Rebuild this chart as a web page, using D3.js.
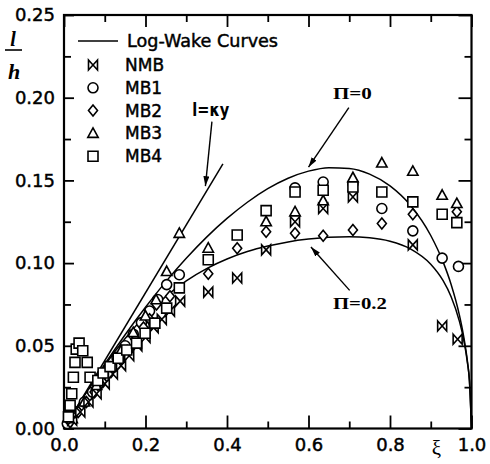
<!DOCTYPE html>
<html>
<head>
<meta charset="utf-8">
<script src="https://cdn.jsdelivr.net/npm/d3@7"></script>
<style>
body { margin: 0; background: #fff; }
svg { display: block; }
.axis text { font-family: "DejaVu Sans"; font-size: 18px; fill: #000; stroke: #000; stroke-width: 0.45; }
.axis line { stroke: #000; stroke-width: 1.8; }
.axis path { display: none; }
.legend text { font-family: "DejaVu Sans"; font-size: 17px; fill: #000; stroke: #000; stroke-width: 0.45; }
.note { font-family: "Liberation Serif"; font-weight: bold; font-size: 17px; fill: #000; }
</style>
</head>
<body>
<svg id="chart"></svg>
<script>
const WIDTH = 490;
const HEIGHT = 464;

// axis ticks
const X_MAJOR = [0, 0.2, 0.4, 0.6, 0.8, 1.0];
const X_MINOR = [0.1, 0.3, 0.5, 0.7, 0.9];
const Y_MAJOR = [0, 0.05, 0.10, 0.15, 0.20, 0.25];
const Y_MINOR = [0.025, 0.075, 0.125, 0.175, 0.225];

// measured points [xi, l/h]
const NMB = [
    [0.02, 0.005], [0.04, 0.010], [0.06, 0.016], [0.08, 0.021], [0.10, 0.027],
    [0.12, 0.033], [0.14, 0.038], [0.16, 0.044], [0.18, 0.050], [0.20, 0.055],
    [0.22, 0.061], [0.24, 0.066], [0.26, 0.071], [0.285, 0.077],
    [0.354, 0.0825], [0.425, 0.091], [0.496, 0.108], [0.567, 0.125], [0.636, 0.133],
    [0.709, 0.140], [0.856, 0.111], [0.928, 0.062], [0.966, 0.054]
];
const MB1 = [
    [0.008, 0.003], [0.03, 0.010], [0.05, 0.016], [0.07, 0.022], [0.09, 0.029],
    [0.11, 0.036], [0.13, 0.043], [0.15, 0.050], [0.17, 0.057], [0.19, 0.064],
    [0.21, 0.071], [0.23, 0.078], [0.252, 0.087], [0.283, 0.093],
    [0.567, 0.1455], [0.636, 0.149], [0.709, 0.148], [0.780, 0.133], [0.856, 0.1195],
    [0.928, 0.103], [0.968, 0.098]
];
const MB2 = [
    [0.015, 0.004], [0.035, 0.010], [0.055, 0.016], [0.075, 0.022], [0.095, 0.028],
    [0.115, 0.034], [0.135, 0.040], [0.155, 0.047], [0.175, 0.054], [0.195, 0.061],
    [0.21, 0.066], [0.227, 0.075], [0.26, 0.080],
    [0.354, 0.0936], [0.425, 0.109], [0.496, 0.119], [0.567, 0.118], [0.636, 0.1165],
    [0.709, 0.120], [0.780, 0.124], [0.856, 0.1295], [0.964, 0.131]
];
const MB3 = [
    [0.02, 0.006], [0.05, 0.016], [0.08, 0.026], [0.11, 0.036], [0.14, 0.047],
    [0.17, 0.058], [0.20, 0.068], [0.226, 0.0778], [0.252, 0.0949], [0.283, 0.118],
    [0.354, 0.109], [0.496, 0.125], [0.567, 0.131], [0.636, 0.1377], [0.709, 0.1516],
    [0.780, 0.1605], [0.856, 0.1555], [0.928, 0.141], [0.964, 0.136]
];
const MB4 = [
    [0.011, 0.007], [0.015, 0.014], [0.019, 0.021], [0.023, 0.031], [0.027, 0.040],
    [0.030, 0.048], [0.037, 0.0516], [0.046, 0.047], [0.057, 0.040], [0.064, 0.031],
    [0.083, 0.029], [0.096, 0.0336], [0.113, 0.0374], [0.133, 0.0425], [0.154, 0.0475],
    [0.178, 0.0516], [0.199, 0.0576], [0.223, 0.0637], [0.252, 0.0728], [0.283, 0.085],
    [0.354, 0.102], [0.425, 0.117], [0.496, 0.1317], [0.567, 0.143], [0.636, 0.144],
    [0.709, 0.146], [0.780, 0.143], [0.856, 0.137], [0.928, 0.1295], [0.964, 0.1245]
];

// log-wake curves
const CURVE_PI0 = [
    [0, 0], [0.02, 0.0081], [0.05, 0.0200], [0.1, 0.0389], [0.15, 0.0567], [0.2, 0.0733],
    [0.25, 0.0888], [0.3, 0.1029], [0.35, 0.1157], [0.4, 0.1270], [0.45, 0.1368],
    [0.5, 0.1450], [0.55, 0.1513], [0.6, 0.1556], [0.65, 0.1577], [0.7, 0.1572],
    [0.75, 0.1538], [0.8, 0.1467], [0.85, 0.1350], [0.9, 0.1167], [0.93, 0.1009],
    [0.95, 0.0871], [0.97, 0.0689], [0.98, 0.0568], [0.99, 0.0406], [0.995, 0.0289], [1.0, 0]
];
const CURVE_PI02 = [
    [0, 0], [0.02, 0.0081], [0.05, 0.0199], [0.1, 0.0382], [0.15, 0.0544], [0.2, 0.0683],
    [0.25, 0.0799], [0.3, 0.0893], [0.35, 0.0967], [0.4, 0.1025], [0.45, 0.1070],
    [0.5, 0.1103], [0.55, 0.1128], [0.6, 0.1145], [0.65, 0.1156], [0.7, 0.1159],
    [0.75, 0.1153], [0.8, 0.1132], [0.85, 0.1086], [0.9, 0.0993], [0.93, 0.0895],
    [0.95, 0.0797], [0.97, 0.0651], [0.98, 0.0547], [0.99, 0.0398], [0.995, 0.0286], [1.0, 0]
];
const KAPPA_LINE = [[0, 0], [0.39, 0.16]];

const SERIES = [
    { name: 'MB1', kind: 'circle', points: MB1 },
    { name: 'MB2', kind: 'diamond', points: MB2 },
    { name: 'MB3', kind: 'triangle', points: MB3 },
    { name: 'NMB', kind: 'bowtie', points: NMB },
    { name: 'MB4', kind: 'square', points: MB4 }
];
const LEGEND_ORDER = ['NMB', 'MB1', 'MB2', 'MB3', 'MB4'];

const svg = d3.select('#chart')
    .attr('width', WIDTH)
    .attr('height', HEIGHT);

const x = d3.scaleLinear().domain([0, 1]).range([64, 471.5]);
const y = d3.scaleLinear().domain([0, 0.25]).range([428.5, 15]);

function symbolPath(kind) {
    switch (kind) {
        case 'bowtie': return 'M-4.5,-5L4.5,5L4.5,-5L-4.5,5Z';
        case 'circle': return 'M5,0A5,5 0 1,1 -5,0A5,5 0 1,1 5,0Z';
        case 'diamond': return 'M0,-5.5L4.5,0L0,5.5L-4.5,0Z';
        case 'triangle': return 'M0,-5.5L5.2,4L-5.2,4Z';
        default: return 'M-5,-5H5V5H-5Z';
    }
}

// axes, ticks pointing inward
function addAxis(axis, transform, withLabels) {
    const g = svg.append('g')
        .attr('class', 'axis')
        .attr('transform', transform)
        .call(axis);
    if (!withLabels) g.selectAll('text').remove();
}

addAxis(d3.axisBottom(x).tickValues(X_MAJOR).tickSize(-13).tickSizeOuter(0)
    .tickPadding(10).tickFormat(d3.format('.1f')), `translate(0,${y(0)})`, true);
addAxis(d3.axisBottom(x).tickValues(X_MINOR).tickSize(-7).tickSizeOuter(0),
    `translate(0,${y(0)})`, false);
addAxis(d3.axisTop(x).tickValues(X_MAJOR).tickSize(-12).tickSizeOuter(0),
    `translate(0,${y(0.25)})`, false);
addAxis(d3.axisTop(x).tickValues(X_MINOR).tickSize(-7).tickSizeOuter(0),
    `translate(0,${y(0.25)})`, false);
addAxis(d3.axisLeft(y).tickValues(Y_MAJOR).tickSize(-10).tickSizeOuter(0)
    .tickPadding(9).tickFormat(d3.format('.2f')), `translate(${x(0)},0)`, true);
addAxis(d3.axisLeft(y).tickValues(Y_MINOR).tickSize(-7).tickSizeOuter(0),
    `translate(${x(0)},0)`, false);
addAxis(d3.axisRight(y).tickValues(Y_MAJOR).tickSize(-13).tickSizeOuter(0),
    `translate(${x(1)},0)`, false);
addAxis(d3.axisRight(y).tickValues(Y_MINOR).tickSize(-7).tickSizeOuter(0),
    `translate(${x(1)},0)`, false);

svg.append('rect')
    .attr('x', x(0))
    .attr('y', y(0.25))
    .attr('width', x(1) - x(0))
    .attr('height', y(0) - y(0.25))
    .attr('fill', 'none')
    .attr('stroke', '#000')
    .attr('stroke-width', 2.2);

// curves
const line = d3.line()
    .x(d => x(d[0]))
    .y(d => y(d[1]))
    .curve(d3.curveMonotoneX);

[CURVE_PI0, CURVE_PI02, KAPPA_LINE].forEach(c => {
    svg.append('path')
        .attr('d', line(c))
        .attr('fill', 'none')
        .attr('stroke', '#000')
        .attr('stroke-width', 1.5);
});

// data points
SERIES.forEach(s => {
    svg.append('g')
        .selectAll('path')
        .data(s.points)
        .join('path')
        .attr('transform', d => `translate(${x(d[0])},${y(d[1])})`)
        .attr('d', symbolPath(s.kind))
        .attr('fill', '#fff')
        .attr('stroke', '#000')
        .attr('stroke-width', 1.6);
});

// annotations with arrows
svg.append('defs')
    .append('marker')
    .attr('id', 'arrow')
    .attr('viewBox', '0 0 10 6')
    .attr('refX', 10)
    .attr('refY', 3)
    .attr('markerWidth', 10)
    .attr('markerHeight', 6)
    .attr('markerUnits', 'userSpaceOnUse')
    .attr('orient', 'auto')
    .append('path')
    .attr('d', 'M0,0L10,3L0,6Z')
    .attr('fill', '#000');

const NOTES = [
    { text: 'l=κy', at: [0.315, 0.189], from: [0.363, 0.1855], to: [0.347, 0.1465], font: 'DejaVu Sans', len: 37 },
    { text: 'Π=0', at: [0.66, 0.199], from: [0.699, 0.194], to: [0.600, 0.158], font: 'Liberation Serif', len: 39 },
    { text: 'Π=0.2', at: [0.660, 0.0725], from: [0.701, 0.0835], to: [0.606, 0.1097], font: 'Liberation Serif', len: 54 }
];

NOTES.forEach(n => {
    svg.append('line')
        .attr('x1', x(n.from[0]))
        .attr('y1', y(n.from[1]))
        .attr('x2', x(n.to[0]))
        .attr('y2', y(n.to[1]))
        .attr('stroke', '#000')
        .attr('stroke-width', 1.4)
        .attr('marker-end', 'url(#arrow)');
    svg.append('text')
        .attr('class', 'note')
        .attr('x', x(n.at[0]))
        .attr('y', y(n.at[1]))
        .attr('textLength', n.len)
        .attr('lengthAdjust', 'spacingAndGlyphs')
        .style('font-family', n.font)
        .text(n.text);
});

// axis titles
svg.append('text')
    .attr('x', x(0.914))
    .attr('y', 455)
    .attr('text-anchor', 'middle')
    .style('font-family', 'Liberation Serif')
    .style('font-size', '21px')
    .text('ξ');

svg.append('text')
    .attr('x', 13)
    .attr('y', 46)
    .attr('text-anchor', 'middle')
    .style('font-family', 'Liberation Serif')
    .style('font-style', 'italic')
    .style('font-weight', 'bold')
    .style('font-size', '20px')
    .text('l');
svg.append('line')
    .attr('x1', 5).attr('x2', 22)
    .attr('y1', 50).attr('y2', 50)
    .attr('stroke', '#000')
    .attr('stroke-width', 1.6);
svg.append('text')
    .attr('x', 14)
    .attr('y', 79)
    .attr('text-anchor', 'middle')
    .style('font-family', 'Liberation Serif')
    .style('font-style', 'italic')
    .style('font-weight', 'bold')
    .style('font-size', '22px')
    .text('h');

// legend
const legend = svg.append('g').attr('class', 'legend');
legend.append('line')
    .attr('x1', 78).attr('x2', 118)
    .attr('y1', 41).attr('y2', 41)
    .attr('stroke', '#000')
    .attr('stroke-width', 1.5);
legend.append('text')
    .attr('x', 127)
    .attr('y', 41)
    .attr('dy', '0.35em')
    .attr('textLength', 151)
    .attr('lengthAdjust', 'spacingAndGlyphs')
    .text('Log-Wake Curves');

LEGEND_ORDER.forEach((name, i) => {
    const s = SERIES.find(d => d.name === name);
    const ly = 65 + i * 22.8;
    legend.append('path')
        .attr('transform', `translate(93,${ly})`)
        .attr('d', symbolPath(s.kind))
        .attr('fill', 'none')
        .attr('stroke', '#000')
        .attr('stroke-width', 1.6);
    legend.append('text')
        .attr('x', 125)
        .attr('y', ly)
        .attr('dy', '0.35em')
        .text(name);
});
</script>
</body>
</html>
